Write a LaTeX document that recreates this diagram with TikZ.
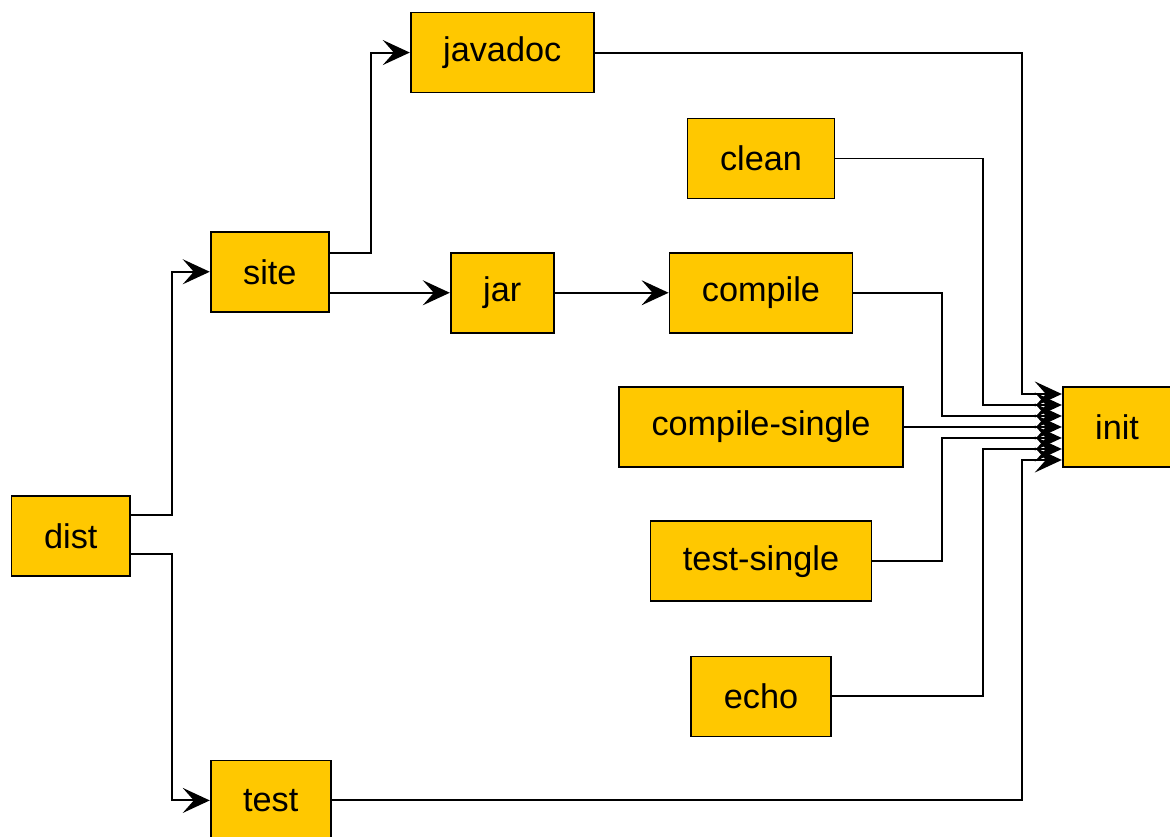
\documentclass[tikz,border=0pt]{standalone}
\usepackage{fontspec}
\setmainfont{Liberation Sans}
\usetikzlibrary{positioning}
\usetikzlibrary{arrows.meta}
\definecolor{taskfill}{HTML}{FFC800}
\tikzstyle{task} = [rectangle,fill=taskfill,draw=black,line width=1pt,inner xsep=0.65cm,minimum height=1.6cm, font=\fontsize{19.5}{23}\selectfont]
\tikzstyle{dep} = [draw=black,line width=1.1pt,-{Stealth[length=0.54cm,width=0.5cm,inset=0.22cm]}]

\begin{document}
\begin{tikzpicture}[x=0.02cm,y=-0.02cm]
\useasboundingbox (0,0) rectangle (1170,837);

% Define nodes
\node[task]                                   (cs)      at (761,427) {compile-single};
\node[task, above = 1.05cm of cs]             (compile) {compile};
\node[task, above = 1.05cm of compile]        (clean)   {clean};
\node[task, below = 1.05cm of cs]             (ts)      {test-single};
\node[task, below = 1.07cm of ts]             (echo)    {echo};
\node[task, right = 3.16cm of cs]             (init)    {init};

\node[task, left  = 2.28cm of compile]        (jar)     {jar};
\node[task, above = 3.17cm of jar]            (javadoc) {javadoc};
\node[task, left  = 2.4cm of jar, yshift = .42cm] (site) {site};
\node[task, below left = 3.65cm and 1.58cm of site] (dist) {dist};
\node[task, below = 8.94cm of site.south west, anchor = north west] (test) {test};

% Edges
\draw[dep] ([yshift=.42cm]dist.east) -- ++(.82cm,0) |- (site.west);
\draw[dep] ([yshift=-.36cm]dist.east) -- ++(.82cm,0) |- (test.west);
\draw[dep] ([yshift=.38cm]site.east) -- ++(.82cm,0) |- (javadoc.west);
\draw[dep] (jar.west -| site.east) -- (jar.west);
\draw[dep] (jar.east) -- (compile.west);

% everything ends up in init
\draw[dep] (javadoc.east) -| ([yshift=.66cm,xshift=-.8cm]init.west) -- ([yshift=.66cm]init.west);
\draw[dep] (clean.east)   -| ([yshift=.44cm,xshift=-1.58cm]init.west) -- ([yshift=.44cm]init.west);
\draw[dep] (compile.east) -| ([yshift=.22cm,xshift=-2.4cm]init.west) -- ([yshift=.22cm]init.west);
\draw[dep] (cs.east) -- (init.west);
\draw[dep] (ts.east)      -| ([yshift=-.22cm,xshift=-2.4cm]init.west) -- ([yshift=-.22cm]init.west);
\draw[dep] (echo.east)    -| ([yshift=-.44cm,xshift=-1.58cm]init.west) -- ([yshift=-.44cm]init.west);
\draw[dep] (test.east)    -| ([yshift=-.66cm,xshift=-.8cm]init.west) -- ([yshift=-.66cm]init.west);
\end{tikzpicture}
\end{document}
